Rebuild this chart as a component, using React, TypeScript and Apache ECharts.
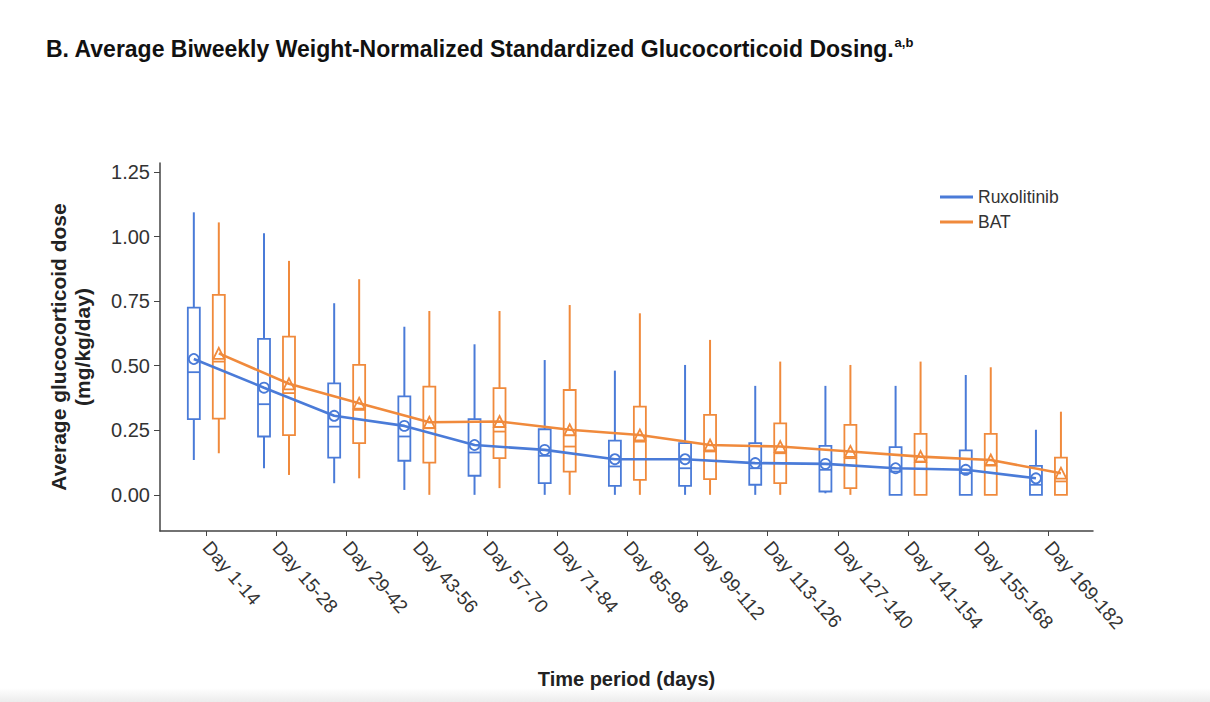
import React, { useEffect, useRef } from "react";
import * as echarts from "echarts";

const categories = [
  "Day 1-14", "Day 15-28", "Day 29-42", "Day 43-56", "Day 57-70", "Day 71-84", "Day 85-98",
  "Day 99-112", "Day 113-126", "Day 127-140", "Day 141-154", "Day 155-168", "Day 169-182",
];
const yTicks = [0, 0.25, 0.5, 0.75, 1.0, 1.25];

// Ruxolitinib
const ruxMin = [0.135, 0.103, 0.045, 0.019, 0, 0, 0, 0, 0, 0.006, 0, 0, 0];
const ruxQ1 = [0.293, 0.226, 0.144, 0.132, 0.074, 0.045, 0.035, 0.035, 0.039, 0.013, 0, 0, 0];
const ruxMedian = [0.475, 0.351, 0.264, 0.226, 0.164, 0.151, 0.11, 0.103, 0.103, 0.097, 0.09, 0.084, 0.039];
const ruxQ3 = [0.725, 0.604, 0.432, 0.381, 0.293, 0.254, 0.21, 0.2, 0.2, 0.19, 0.185, 0.172, 0.112];
const ruxMax = [1.094, 1.013, 0.742, 0.651, 0.583, 0.522, 0.481, 0.503, 0.422, 0.422, 0.422, 0.464, 0.252];
const ruxMean = [0.526, 0.415, 0.306, 0.267, 0.193, 0.174, 0.138, 0.138, 0.123, 0.12, 0.103, 0.097, 0.064];

// BAT
const batMin = [0.161, 0.077, 0.064, 0, 0.026, 0, 0, 0, 0, 0, 0, 0, 0];
const batQ1 = [0.295, 0.231, 0.2, 0.125, 0.142, 0.09, 0.058, 0.061, 0.045, 0.026, 0, 0, 0];
const batMedian = [0.516, 0.394, 0.329, 0.258, 0.245, 0.187, 0.206, 0.168, 0.161, 0.142, 0.129, 0.116, 0.052];
const batQ3 = [0.774, 0.613, 0.503, 0.419, 0.413, 0.406, 0.342, 0.31, 0.277, 0.271, 0.236, 0.236, 0.144];
const batMax = [1.055, 0.906, 0.835, 0.712, 0.712, 0.735, 0.703, 0.6, 0.516, 0.503, 0.516, 0.494, 0.322];
const batMean = [0.548, 0.43, 0.355, 0.281, 0.284, 0.252, 0.232, 0.193, 0.187, 0.168, 0.148, 0.135, 0.084];

const BLUE = "#4a7bd8";
const ORANGE = "#f08a3c";
const FONT = "'Liberation Sans', Arial, Helvetica, sans-serif";
const OFFSET = 0.178; // half-distance between paired boxes, in category units
const BOX_W = 12;

function boxRenderer(color: string, offset: number) {
  return (params: any, api: any) => {
    const x = api.value(0) + offset;
    const pMin = api.coord([x, api.value(1)]);
    const pQ1 = api.coord([x, api.value(2)]);
    const pMed = api.coord([x, api.value(3)]);
    const pQ3 = api.coord([x, api.value(4)]);
    const pMax = api.coord([x, api.value(5)]);
    const cx = pMin[0];
    const hw = BOX_W / 2;
    const st = { stroke: color, lineWidth: 2, fill: "none" };
    return {
      type: "group",
      children: [
        { type: "line", shape: { x1: cx, y1: pMax[1], x2: cx, y2: pQ3[1] }, style: st },
        { type: "line", shape: { x1: cx, y1: pQ1[1], x2: cx, y2: pMin[1] }, style: st },
        {
          type: "rect",
          shape: { x: cx - hw, y: pQ3[1], width: BOX_W, height: Math.max(pQ1[1] - pQ3[1], 0.5) },
          style: { stroke: color, lineWidth: 1.8, fill: "rgba(255,255,255,0)" },
        },
        { type: "line", shape: { x1: cx - hw, y1: pMed[1], x2: cx + hw, y2: pMed[1] }, style: { stroke: color, lineWidth: 1.8 } },
      ],
    };
  };
}

export default function App() {
  const ref = useRef<HTMLDivElement>(null);
  useEffect(() => {
    document.body.style.margin = "0";
    if (!ref.current) return;
    const chart = echarts.init(ref.current, undefined, { renderer: "svg" });
    const idx = categories.map((_, i) => i);
    const ruxBox = idx.map((i) => [i, ruxMin[i], ruxQ1[i], ruxMedian[i], ruxQ3[i], ruxMax[i]]);
    const batBox = idx.map((i) => [i, batMin[i], batQ1[i], batMedian[i], batQ3[i], batMax[i]]);
    const ruxLine = idx.map((i) => [i - OFFSET, ruxMean[i]]);
    const batLine = idx.map((i) => [i + OFFSET, batMean[i]]);

    chart.setOption({
      animation: false,
      backgroundColor: "#ffffff",
      title: {
        text: "B. Average Biweekly Weight-Normalized Standardized Glucocorticoid Dosing.{sup|a,b}",
        left: 46,
        top: 36,
        padding: 0,
        textStyle: {
          fontFamily: FONT,
          fontSize: 23,
          fontWeight: "bold",
          color: "#111",
          rich: {
            sup: { fontSize: 13, fontWeight: "bold", color: "#111", fontFamily: FONT, verticalAlign: "top", lineHeight: 26 },
          },
        },
      },
      legend: {
        orient: "vertical",
        left: 940,
        top: 188,
        padding: 0,
        itemWidth: 33,
        itemHeight: 3,
        itemGap: 7,
        icon: "rect",
        textStyle: { fontFamily: FONT, fontSize: 17.5, color: "#333" },
        data: [
          { name: "Ruxolitinib", itemStyle: { color: BLUE, borderWidth: 0 } },
          { name: "BAT", itemStyle: { color: ORANGE, borderWidth: 0 } },
        ],
      },
      grid: { left: 160, right: 117, top: 163, bottom: 171, containLabel: false, outerBoundsMode: "none" },
      xAxis: {
        type: "value",
        min: -0.66,
        max: 12.635,
        name: "Time period (days)",
        nameLocation: "middle",
        nameGap: 138,
        nameTextStyle: { fontFamily: FONT, fontSize: 20, fontWeight: "bold", color: "#222" },
        axisLine: { show: true, onZero: false, lineStyle: { color: "#444", width: 1.5 } },
        axisTick: { show: true, customValues: idx, length: 5, lineStyle: { color: "#444" } },
        splitLine: { show: false },
        axisLabel: {
          customValues: idx,
          formatter: (v: number) => categories[Math.round(v)],
          rotate: -49,
          margin: 13,
          fontFamily: FONT,
          fontSize: 19,
          color: "#333",
        },
      },
      yAxis: {
        type: "value",
        min: -0.14,
        max: 1.285,
        name: "Average glucocorticoid dose\n(mg/kg/day)",
        nameLocation: "middle",
        nameRotate: 90,
        nameGap: 66,
        nameTextStyle: { fontFamily: FONT, fontSize: 21, fontWeight: "bold", color: "#222", lineHeight: 24 },
        axisLine: { show: true, onZero: false, lineStyle: { color: "#444", width: 1.5 } },
        axisTick: { show: true, customValues: yTicks, length: 6, lineStyle: { color: "#444" } },
        splitLine: { show: false },
        axisLabel: {
          customValues: yTicks,
          formatter: (v: number) => v.toFixed(2),
          margin: 10,
          fontFamily: FONT,
          fontSize: 20,
          color: "#333",
        },
      },
      series: [
        {
          name: "Ruxolitinib-box",
          type: "custom",
          renderItem: boxRenderer(BLUE, -OFFSET),
          data: ruxBox,
          encode: { x: 0, y: [1, 2, 3, 4, 5] },
          z: 2,
          silent: true,
        },
        {
          name: "BAT-box",
          type: "custom",
          renderItem: boxRenderer(ORANGE, OFFSET),
          data: batBox,
          encode: { x: 0, y: [1, 2, 3, 4, 5] },
          z: 2,
          silent: true,
        },
        {
          name: "Ruxolitinib",
          type: "line",
          data: ruxLine,
          symbol: "circle",
          symbolSize: 10,
          z: 3,
          lineStyle: { color: BLUE, width: 2.6 },
          itemStyle: { color: "rgba(255,255,255,0)", borderColor: BLUE, borderWidth: 1.8 },
        },
        {
          name: "BAT",
          type: "line",
          data: batLine,
          symbol: "triangle",
          symbolSize: 11,
          z: 3,
          lineStyle: { color: ORANGE, width: 2.6 },
          itemStyle: { color: "rgba(255,255,255,0)", borderColor: ORANGE, borderWidth: 1.8 },
        },
      ],
      graphic: [
        {
          type: "rect",
          left: 0,
          top: 688,
          shape: { width: 1210, height: 14 },
          style: {
            fill: new echarts.graphic.LinearGradient(0, 0, 0, 1, [
              { offset: 0, color: "#ffffff" },
              { offset: 1, color: "#ececec" },
            ]),
          },
          silent: true,
          z: -1,
        },
      ],
    });
    return () => chart.dispose();
  }, []);
  return <div ref={ref} style={{ width: 1210, height: 702 }} />;
}
